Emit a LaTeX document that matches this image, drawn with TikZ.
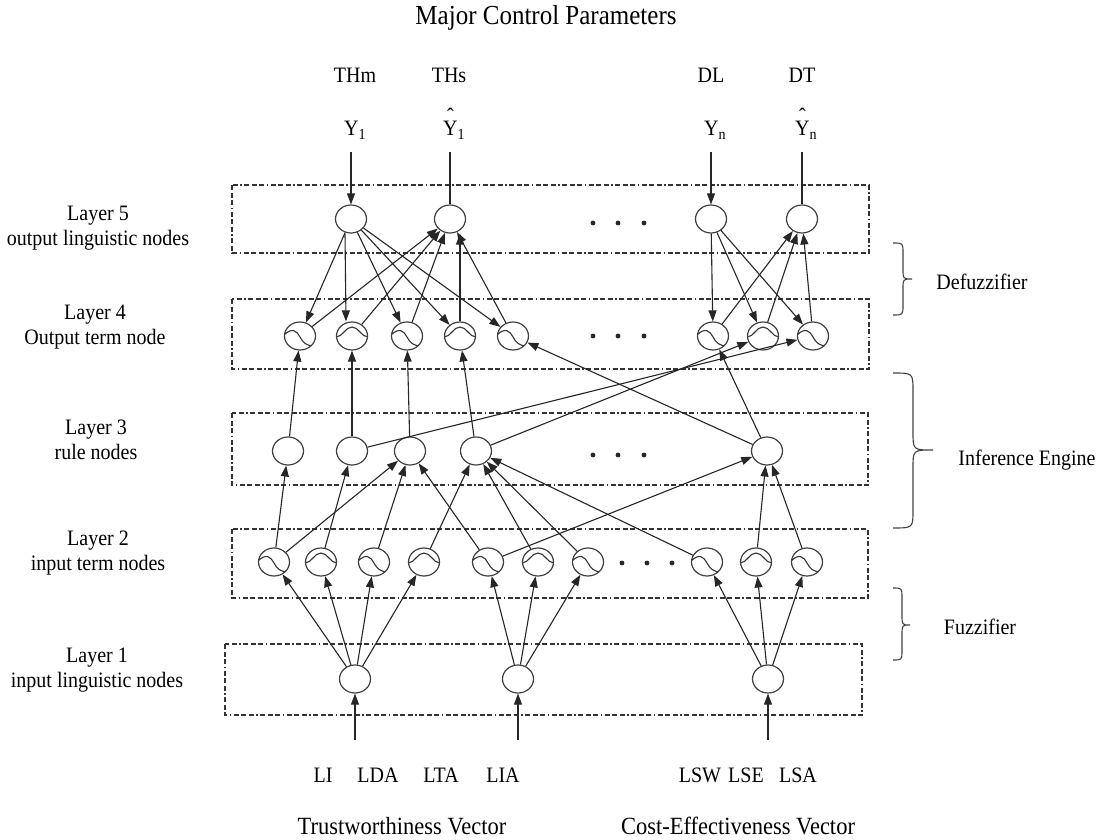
\documentclass[tikz,border=0pt]{standalone}
\usepackage{fontspec}
\usepackage{graphicx}
\setmainfont{Liberation Serif}
\usetikzlibrary{arrows.meta,shapes.geometric}
\newcommand\vsc[1]{\scalebox{1}[1.1]{#1}}
\newcommand\hY{\ooalign{Y\cr\hidewidth\raisebox{11pt}{\char"02C6}\hidewidth\cr}}
\tikzset{
  lbl/.style={font=\fontsize{20}{22.5}\selectfont, inner sep=0pt, align=center},
  big/.style={font=\fontsize{22.5}{25}\selectfont, inner sep=0pt},
  nd/.style={draw=black!75, line width=1.2pt, ellipse, minimum width=31pt, minimum height=28pt, inner sep=0pt, fill=white},
  glyph/.style={line width=1.1pt, black!80},
  sig/.style={nd, path picture={
    \begin{scope}[shift={(path picture bounding box.center)}]
    \draw[glyph] (-16pt,1pt) .. controls (-8pt,9pt) and (-3pt,5pt) .. (0pt,-1pt) .. controls (3pt,-7pt) and (7pt,-10pt) .. (14pt,-10pt);
    \end{scope}}},
  bell/.style={nd, path picture={
    \begin{scope}[shift={(path picture bounding box.center)}]
    \draw[glyph] (-16pt,-1pt) .. controls (-9pt,-1pt) and (-7pt,9pt) .. (0pt,9pt) .. controls (7pt,9pt) and (9pt,-1pt) .. (16pt,-1pt);
    \end{scope}}},
  arr/.style={-{Triangle[length=11pt,width=8pt]}, line width=1.1pt, black!85},
  ln/.style={line width=1.1pt, black!85},
  lbox/.style={draw=black!80, line width=1.3pt, dash pattern=on 5pt off 2.5pt on 5pt off 2.5pt on 5pt off 2.5pt on 1.5pt off 2.5pt},
  brace/.style={draw=black!75, line width=1.1pt},
}
\begin{document}
\begin{tikzpicture}[x=1pt,y=-1pt]
\useasboundingbox (0,0) rectangle (1106,840);

% layer boxes
\draw[lbox] (232,185) rectangle (869,253);
\draw[lbox] (232,299) rectangle (869,369);
\draw[lbox] (232,413) rectangle (868,485);
\draw[lbox] (232,529) rectangle (868,598);
\draw[lbox] (225,644) rectangle (862,715);

% texts
\node[big, font=\fontsize{25}{27}\selectfont] (title) at (546,18) {\vsc{Major Control Parameters}};
\node[lbl] (thm) at (355,75) {\vsc{THm}};
\node[lbl] (ths) at (449,75) {\vsc{THs}};
\node[lbl] (dl) at (711,75) {\vsc{DL}};
\node[lbl] (dt) at (802,75) {\vsc{DT}};
\node[lbl, anchor=base west] (y1) at (344,136) {\vsc{Y\textsubscript{1}}};
\node[lbl, anchor=base west] (yh1) at (443,136) {\vsc{\hY\textsubscript{1}}};
\node[lbl, anchor=base west] (yn) at (704,136) {\vsc{Y\textsubscript{n}}};
\node[lbl, anchor=base west] (yhn) at (795,136) {\vsc{\hY\textsubscript{n}}};

\node[lbl] (lab5) at (98,228) {\vsc{\begin{tabular}{@{}c@{}}Layer 5\\output linguistic nodes\end{tabular}}};
\node[lbl] (lab4) at (95,327) {\vsc{\begin{tabular}{@{}c@{}}Layer 4\\Output term node\end{tabular}}};
\node[lbl] (lab3) at (96,442) {\vsc{\begin{tabular}{@{}c@{}}Layer 3\\rule nodes\end{tabular}}};
\node[lbl] (lab2) at (98,553) {\vsc{\begin{tabular}{@{}c@{}}Layer 2\\input term nodes\end{tabular}}};
\node[lbl] (lab1) at (97,670) {\vsc{\begin{tabular}{@{}c@{}}Layer 1\\input linguistic nodes\end{tabular}}};

\node[lbl] (defz) at (982,282) {\vsc{Defuzzifier}};
\node[lbl] (infe) at (1027,460) {\vsc{Inference Engine}};
\node[lbl] (fuzz) at (980,627) {\vsc{Fuzzifier}};

\node[lbl] (li) at (323,775) {\vsc{LI}};
\node[lbl] (lda) at (378,775) {\vsc{LDA}};
\node[lbl] (lta) at (441,775) {\vsc{LTA}};
\node[lbl] (lia) at (503,775) {\vsc{LIA}};
\node[lbl] (lsw) at (700,775) {\vsc{LSW}};
\node[lbl] (lse) at (746,775) {\vsc{LSE}};
\node[lbl] (lsa) at (798,775) {\vsc{LSA}};
\node[big] (tv) at (402,826) {\vsc{Trustworthiness Vector}};
\node[big] (cv) at (738,826) {\vsc{Cost-Effectiveness Vector}};

% braces
\draw[brace] (893,243) .. controls (903,243) .. (903,253) -- (903,269) .. controls (903,279) .. (912,279) .. controls (903,279) .. (903,289) -- (903,305) .. controls (903,315) .. (893,315);
\draw[brace] (893,373) .. controls (913,373) .. (913,391) -- (913,432) .. controls (913,450) .. (933,450) .. controls (913,450) .. (913,468) -- (913,510) .. controls (913,528) .. (893,528);
\draw[brace] (893,588) .. controls (902,588) .. (902,598) -- (902,615) .. controls (902,625) .. (910,625) .. controls (902,625) .. (902,635) -- (902,650) .. controls (902,660) .. (893,660);

% dots
\foreach \x in {593,618,644} {
  \fill[black!85] (\x,223) circle (2.4pt);
  \fill[black!85] (\x,336) circle (2.4pt);
  \fill[black!85] (\x,455) circle (2.4pt);
}
\foreach \x in {622,647,672} \fill[black!85] (\x,563) circle (2.4pt);

% layer 5
\node[nd] (A) at (351,219) {};
\node[nd] (B) at (450,219) {};
\node[nd] (C) at (711,219) {};
\node[nd] (D) at (802,219) {};
% layer 4
\node[sig]  (n1) at (300,336) {};
\node[bell] (n2) at (352,336) {};
\node[sig]  (n3) at (407,336) {};
\node[bell] (n4) at (460,336) {};
\node[sig]  (n5) at (513,336) {};
\node[sig]  (n6) at (713,336) {};
\node[bell] (n7) at (763,336) {};
\node[sig]  (n8) at (813,336) {};
% layer 3
\node[nd] (r1) at (288,451) {};
\node[nd] (r2) at (352,451) {};
\node[nd] (r3) at (410,451) {};
\node[nd] (r4) at (476,451) {};
\node[nd] (r5) at (767,451) {};
% layer 2
\node[sig]  (a1) at (274,562) {};
\node[bell] (a2) at (321,562) {};
\node[sig]  (a3) at (374,562) {};
\node[bell] (a4) at (424,562) {};
\node[sig]  (b1) at (488,562) {};
\node[bell] (b2) at (538,562) {};
\node[sig]  (b3) at (588,562) {};
\node[sig]  (c1) at (707,562) {};
\node[bell] (c2) at (756,562) {};
\node[sig]  (c3) at (807,562) {};
% layer 1
\node[nd] (p1) at (355,679) {};
\node[nd] (p2) at (518,679) {};
\node[nd] (p3) at (768,679) {};

% top inputs
\coordinate (tA) at (351,152);
\coordinate (tB) at (450,152);
\coordinate (tC) at (711,152);
\coordinate (tD) at (802,152);
\draw[arr] (tA) -- (A);
\draw[ln] (tB) -- (B);
\draw[arr] (tC) -- (C);
\draw[ln] (tD) -- (D);

% layer 5 - layer 4
\draw[arr] (A) -- (n1);
\draw[arr] ([xshift=-6pt]A.south) -- ([xshift=-6pt]n2.north);
\draw[arr] (A) -- (n3);
\draw[arr] (A) -- (n4);
\draw[arr] (A) -- (n5);
\draw[arr] (n1) -- (B);
\draw[arr] (n2) -- (B);
\draw[arr] (n3) -- (B);
\draw[arr] (n4.north) -- (n4.north |- B.south);
\draw[arr] (n5) -- (B);
\foreach \i in {6,7,8} {
  \draw[arr] (C) -- (n\i);
  \draw[arr] (n\i) -- (D);
}

% layer 3 - layer 4
\draw[arr] (r1) -- (n1);
\draw[arr] (r2) -- (n2);
\draw[arr] (r3) -- (n3);
\draw[arr] (r4) -- (n4);
\draw[arr] (r2) -- (n8);
\draw[arr] (r4) -- (n7);
\draw[arr] (r5) -- (n5);
\draw[arr] (r5) -- (n6);

% layer 2 - layer 3
\draw[arr] (a1) -- (r1);
\draw[arr] (a1) -- (r3);
\draw[arr] (a2) -- (r2);
\draw[arr] (a3) -- (r3);
\draw[arr] (a4) -- (r4);
\draw[arr] (b1) -- (r3);
\draw[arr] (b1) -- (r5);
\draw[arr] (b2) -- (r4);
\draw[arr] (b3) -- (r4);
\draw[arr] (c1) -- (r4);
\draw[arr] (c2) -- (r5);
\draw[arr] (c3) -- (r5);

% layer 1 - layer 2
\foreach \t in {a1,a2,a3,a4} \draw[arr] (p1) -- (\t);
\foreach \t in {b1,b2,b3} \draw[arr] (p2) -- (\t);
\foreach \t in {c1,c2,c3} \draw[arr] (p3) -- (\t);

% bottom inputs
\coordinate (i1) at (355,740);
\coordinate (i2) at (518,740);
\coordinate (i3) at (768,740);
\draw[arr] (i1) -- (p1);
\draw[arr] (i2) -- (p2);
\draw[arr] (i3) -- (p3);
\end{tikzpicture}
\end{document}
